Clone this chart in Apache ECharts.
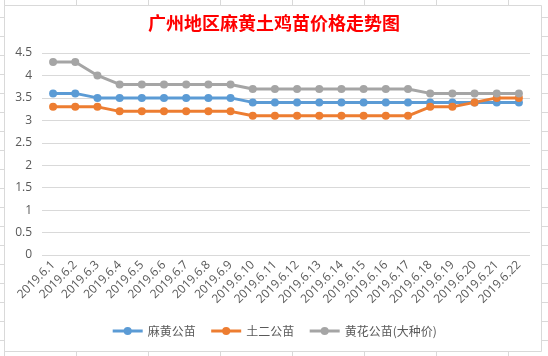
<!DOCTYPE html>
<html><head><meta charset="utf-8">
<script src="https://cdn.jsdelivr.net/npm/echarts@6/dist/echarts.min.js"></script>
<style>html,body{margin:0;padding:0;background:#fff}#c{width:548px;height:356px}</style>
</head><body><div id="c"></div>
<script>
var categories = ['2019.6.1','2019.6.2','2019.6.3','2019.6.4','2019.6.5','2019.6.6','2019.6.7','2019.6.8','2019.6.9','2019.6.10','2019.6.11','2019.6.12','2019.6.13','2019.6.14','2019.6.15','2019.6.16','2019.6.17','2019.6.18','2019.6.19','2019.6.20','2019.6.21','2019.6.22'];
var mahuang = [3.6,3.6,3.5,3.5,3.5,3.5,3.5,3.5,3.5,3.4,3.4,3.4,3.4,3.4,3.4,3.4,3.4,3.4,3.4,3.4,3.4,3.4];
var tuer = [3.3,3.3,3.3,3.2,3.2,3.2,3.2,3.2,3.2,3.1,3.1,3.1,3.1,3.1,3.1,3.1,3.1,3.3,3.3,3.4,3.5,3.5];
var huanghua = [4.3,4.3,4.0,3.8,3.8,3.8,3.8,3.8,3.8,3.7,3.7,3.7,3.7,3.7,3.7,3.7,3.7,3.6,3.6,3.6,3.6,3.6];
var seriesNames = ['麻黄公苗','土二公苗','黄花公苗(大种价)'];
var colors = ['#5B9BD5','#ED7D31','#A5A5A5'];

var sheetColor = '#d9d9d9';
var deco = [];
for (var x = 4; x < 548; x += 72) {
  deco.push({type:'line', z:-10, shape:{x1:x+0.5,y1:0,x2:x+0.5,y2:356}, style:{stroke:sheetColor,lineWidth:1}});
}
for (var y = 17; y < 356; y += 19) {
  deco.push({type:'line', z:-10, shape:{x1:0,y1:y+0.5,x2:548,y2:y+0.5}, style:{stroke:sheetColor,lineWidth:1}});
}
deco.push({type:'rect', z:-5, shape:{x:4.5,y:5.5,width:537,height:346}, style:{fill:'#fff',stroke:'#d9d9d9',lineWidth:1}});

function mk(name, data, color) {
  return {name:name, type:'line', data:data, symbol:'circle', symbolSize:8,
    lineStyle:{width:3,color:color}, itemStyle:{color:color}, animation:false};
}
var chart = echarts.init(document.getElementById('c'), null, {renderer:'canvas'});
chart.setOption({
  backgroundColor:'#fff',
  animation:false,
  graphic: deco,
  title:{text:'广州地区麻黄土鸡苗价格走势图', left:'center', top:9,
    textStyle:{color:'#ff0000', fontSize:18, fontWeight:'bold', fontFamily:'Noto Sans CJK SC'}},
  grid:{left:42, right:18, top:53, bottom:101},
  legend:{bottom:14, left:'center', itemWidth:30, itemHeight:10, itemGap:14,
    lineStyle:{width:3},
    textStyle:{color:'#595959', fontSize:12, fontFamily:'Noto Sans CJK SC'},
    data:seriesNames},
  xAxis:{type:'category', data:categories, boundaryGap:true,
    axisLine:{show:false}, axisTick:{show:false},
    axisLabel:{rotate:45, color:'#595959', fontSize:12, interval:0, margin:8, fontFamily:'Open Sans'}},
  yAxis:{type:'value', min:0, max:4.5, interval:0.5,
    axisLine:{show:false}, axisTick:{show:false},
    axisLabel:{color:'#595959', fontSize:12, margin:10, fontFamily:'Open Sans'},
    splitLine:{lineStyle:{color:'#d9d9d9', width:1}}},
  series:[mk(seriesNames[0], mahuang, colors[0]), mk(seriesNames[1], tuer, colors[1]), mk(seriesNames[2], huanghua, colors[2])]
});
</script></body></html>
